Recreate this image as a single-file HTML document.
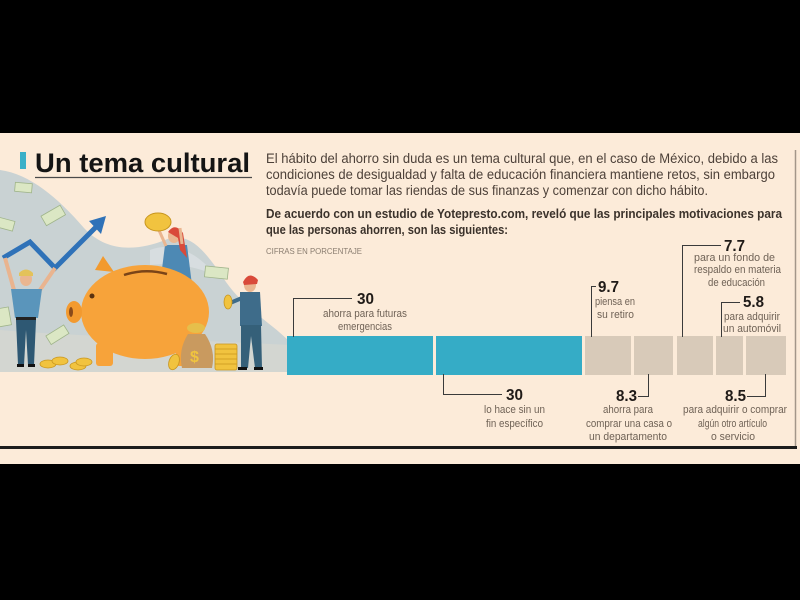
<!DOCTYPE html>
<html><head><meta charset="utf-8"><style>
html,body{margin:0;padding:0;background:#000;}
svg{display:block;}
</style></head><body>
<svg width="800" height="600" viewBox="0 0 800 600" xmlns="http://www.w3.org/2000/svg" font-family="Liberation Sans, Arial, sans-serif">
<rect x="0" y="0" width="800" height="600" fill="#000"/>
<rect x="0" y="133" width="800" height="331" fill="#fcebd9"/>

<!-- illustration background -->
<path d="M0,170 C30,174 58,198 84,228 C108,254 140,250 165,240 C190,230 206,252 226,282 C246,310 270,322 290,342 L290,372 L0,372 Z" fill="#c9d2d3"/>
<path d="M0,330 C60,335 150,338 290,345 L290,372 L0,372 Z" fill="#d3d6d1"/>
<path d="M150,250 C175,240 200,255 215,275 C200,268 175,262 150,265 Z" fill="#d7dde0"/>

<!-- bills -->
<g fill="#dbe7c4" stroke="#9fb48a" stroke-width="0.8">
<rect x="15" y="183" width="17" height="9" transform="rotate(5 23 187)"/>
<rect x="42" y="210" width="22" height="11" transform="rotate(-30 53 215)"/>
<rect x="-4" y="219" width="18" height="10" transform="rotate(15 5 224)"/>
<rect x="205" y="267" width="23" height="11" transform="rotate(6 216 272)"/>
<rect x="47" y="330" width="21" height="10" transform="rotate(-32 57 335)"/>
<rect x="-4" y="308" width="14" height="18" transform="rotate(-10 3 317)"/>
</g>

<!-- arrow -->
<polyline points="3,258 30,242 55,268 97,226" fill="none" stroke="#2f72b8" stroke-width="5" stroke-linejoin="miter"/>
<polygon points="106,216 89,221 101,234" fill="#2f72b8"/>

<!-- left man -->
<g>
<line x1="14" y1="290" x2="5" y2="258" stroke="#e9b48f" stroke-width="4"/>
<line x1="40" y1="290" x2="55" y2="268" stroke="#e9b48f" stroke-width="4"/>
<ellipse cx="26" cy="279" rx="6" ry="7" fill="#eab690"/>
<path d="M19,273 Q26,266 33,273 L33,276 L19,276 Z" fill="#e3c25a"/>
<path d="M11,289 L42,289 L38,318 L15,318 Z" fill="#5a95bb"/>
<rect x="16" y="317" width="20" height="3" fill="#222"/>
<path d="M16,320 L36,320 L34,365 L28,365 L26,330 L24,365 L18,365 Z" fill="#2e5873"/>
<rect x="17" y="364" width="7" height="3" fill="#111"/>
<rect x="28" y="364" width="7" height="3" fill="#111"/>
</g>

<!-- woman -->
<g>
<path d="M165,245 L187,245 L192,285 L160,285 Z" fill="#4d89b4"/>
<ellipse cx="174" cy="236" rx="6" ry="7" fill="#eab690"/>
<path d="M168,232 Q175,222 183,233 L187,258 L180,250 L178,238 Z" fill="#d94a3a"/>
<line x1="166" y1="246" x2="158" y2="228" stroke="#eab690" stroke-width="3"/>
<line x1="182" y1="244" x2="180" y2="228" stroke="#eab690" stroke-width="3"/>
<ellipse cx="158" cy="222" rx="13" ry="9" fill="#f1c33f" stroke="#c8961f" stroke-width="1"/>
</g>

<!-- pig -->
<g>
<path d="M95,270 L103,256 L114,272 Z" fill="#f29a2e"/>
<ellipse cx="145" cy="312" rx="64" ry="47" fill="#f7a33a"/>
<ellipse cx="74" cy="312" rx="8" ry="11" fill="#f39a2f"/>
<ellipse cx="71" cy="312" rx="2" ry="5" fill="#8a4a1a"/>
<circle cx="92" cy="296" r="2.5" fill="#5a3210"/>
<path d="M124,275 Q145,268 167,274" fill="none" stroke="#7a4418" stroke-width="2.5"/>
<rect x="96" y="343" width="17" height="23" rx="3" fill="#f7a33a"/>
<rect x="176" y="343" width="17" height="23" rx="3" fill="#f7a33a"/>
</g>

<!-- coins ground -->
<g fill="#f1c33f" stroke="#c8961f" stroke-width="0.8">
<ellipse cx="48" cy="364" rx="8" ry="4"/>
<ellipse cx="60" cy="361" rx="8" ry="4"/>
<ellipse cx="78" cy="366" rx="8" ry="4"/>
<ellipse cx="84" cy="362" rx="8" ry="4"/>
<ellipse cx="174" cy="362" rx="5" ry="8" transform="rotate(20 174 362)"/>
</g>

<!-- money bag -->
<path d="M188,334 Q178,350 182,368 L212,368 Q216,350 205,334 Z" fill="#c99a5f"/>
<ellipse cx="196" cy="328" rx="9" ry="5" fill="#e6bf4b"/>
<text x="190" y="362" font-size="16" font-weight="bold" fill="#f0c43e">$</text>
<!-- coin stack -->
<g fill="#f1c33f" stroke="#c8961f" stroke-width="0.8">
<rect x="215" y="344" width="22" height="26" rx="2"/>
</g>
<g stroke="#c8961f" stroke-width="0.7">
<line x1="215" y1="349" x2="237" y2="349"/><line x1="215" y1="354" x2="237" y2="354"/><line x1="215" y1="359" x2="237" y2="359"/><line x1="215" y1="364" x2="237" y2="364"/>
</g>

<!-- right man -->
<g>
<ellipse cx="250" cy="285" rx="6" ry="7" fill="#eab690"/>
<path d="M243,282 Q249,270 258,280 L257,284 L244,285 Z" fill="#d94a3a"/>
<path d="M240,292 L260,292 L262,326 L240,326 Z" fill="#3e6c8a"/>
<path d="M241,325 L261,325 L262,368 L255,368 L251,336 L248,368 L241,368 Z" fill="#356079"/>
<line x1="242" y1="298" x2="230" y2="303" stroke="#3e6c8a" stroke-width="4"/>
<ellipse cx="228" cy="302" rx="4" ry="7" fill="#f1c33f" stroke="#c8961f" stroke-width="0.8"/>
<rect x="238" y="367" width="9" height="3" fill="#111"/>
<rect x="254" y="367" width="9" height="3" fill="#111"/>
</g>

<!-- title -->
<rect x="20" y="152" width="6" height="17" fill="#3ab0c8"/>
<text x="35" y="172" font-size="27" font-weight="bold" fill="#141414" textLength="215" lengthAdjust="spacingAndGlyphs">Un tema cultural</text>
<line x1="35" y1="177.5" x2="252" y2="177.5" stroke="#4a4a4a" stroke-width="1.2"/>

<!-- paragraph -->
<g font-size="13.5" fill="#4d4139">
<text x="266" y="163" textLength="512" lengthAdjust="spacingAndGlyphs">El hábito del ahorro sin duda es un tema cultural que, en el caso de México, debido a las</text>
<text x="266" y="179" textLength="509" lengthAdjust="spacingAndGlyphs">condiciones de desigualdad y falta de educación financiera mantiene retos, sin embargo</text>
<text x="266" y="195" textLength="442" lengthAdjust="spacingAndGlyphs">todavía puede tomar las riendas de sus finanzas y comenzar con dicho hábito.</text>
</g>
<g font-size="13" font-weight="bold" fill="#3b322b">
<text x="266" y="218" textLength="516" lengthAdjust="spacingAndGlyphs">De acuerdo con un estudio de Yotepresto.com, reveló que las principales motivaciones para</text>
<text x="266" y="234" textLength="242" lengthAdjust="spacingAndGlyphs">que las personas ahorren, son las siguientes:</text>
</g>
<text x="266" y="254" font-size="8.5" fill="#8a7d70" textLength="96" lengthAdjust="spacingAndGlyphs">CIFRAS EN PORCENTAJE</text>

<!-- right border line -->
<line x1="795.5" y1="150" x2="795.5" y2="447" stroke="#a39689" stroke-width="1.5"/>
<!-- bottom rule -->
<rect x="0" y="446" width="797" height="3" fill="#1c1c1c"/>

<!-- bars -->
<g fill="#35acc6">
<rect x="287" y="336" width="146" height="39"/>
<rect x="436" y="336" width="146" height="39"/>
</g>
<g fill="#d8cab9">
<rect x="585" y="336" width="46" height="39"/>
<rect x="634" y="336" width="39" height="39"/>
<rect x="677" y="336" width="36" height="39"/>
<rect x="716" y="336" width="27" height="39"/>
<rect x="746" y="336" width="40" height="39"/>
</g>

<!-- leaders -->
<g fill="none" stroke="#3a3a3a" stroke-width="1">
<path d="M293.5,337 V298.5 H352"/>
<path d="M443.5,374 V394.5 H502"/>
<path d="M591.5,337 V286.5 H596"/>
<path d="M682.5,337 V245.5 H721"/>
<path d="M721.5,337 V302.5 H740"/>
<path d="M638,396.5 H648.5 V374"/>
<path d="M747,396.5 H765.5 V374"/>
</g>

<!-- numbers -->
<g font-size="15.5" font-weight="bold" fill="#1f1a17">
<text x="357" y="304" textLength="17" lengthAdjust="spacingAndGlyphs">30</text>
<text x="506" y="400" textLength="17" lengthAdjust="spacingAndGlyphs">30</text>
<text x="598" y="292" textLength="21" lengthAdjust="spacingAndGlyphs">9.7</text>
<text x="724" y="251" textLength="21" lengthAdjust="spacingAndGlyphs">7.7</text>
<text x="743" y="307" textLength="21" lengthAdjust="spacingAndGlyphs">5.8</text>
<text x="616" y="401" textLength="21" lengthAdjust="spacingAndGlyphs">8.3</text>
<text x="725" y="401" textLength="21" lengthAdjust="spacingAndGlyphs">8.5</text>
</g>

<!-- labels -->
<g font-size="11" fill="#6f6256">
<text x="323" y="317" textLength="84" lengthAdjust="spacingAndGlyphs">ahorra para futuras</text>
<text x="338" y="330" textLength="54" lengthAdjust="spacingAndGlyphs">emergencias</text>
<text x="484" y="413" textLength="61" lengthAdjust="spacingAndGlyphs">lo hace sin un</text>
<text x="486" y="427" textLength="57" lengthAdjust="spacingAndGlyphs">fin específico</text>
<text x="595" y="305" textLength="40" lengthAdjust="spacingAndGlyphs">piensa en</text>
<text x="597" y="318" textLength="37" lengthAdjust="spacingAndGlyphs">su retiro</text>
<text x="694" y="261" textLength="81" lengthAdjust="spacingAndGlyphs">para un fondo de</text>
<text x="694" y="273" textLength="87" lengthAdjust="spacingAndGlyphs">respaldo en materia</text>
<text x="708" y="286" textLength="57" lengthAdjust="spacingAndGlyphs">de educación</text>
<text x="724" y="320" textLength="56" lengthAdjust="spacingAndGlyphs">para adquirir</text>
<text x="723" y="332" textLength="58" lengthAdjust="spacingAndGlyphs">un automóvil</text>
<text x="603" y="413" textLength="50" lengthAdjust="spacingAndGlyphs">ahorra para</text>
<text x="586" y="427" textLength="86" lengthAdjust="spacingAndGlyphs">comprar una casa o</text>
<text x="589" y="440" textLength="78" lengthAdjust="spacingAndGlyphs">un departamento</text>
<text x="683" y="413" textLength="104" lengthAdjust="spacingAndGlyphs">para adquirir o comprar</text>
<text x="698" y="427" textLength="69" lengthAdjust="spacingAndGlyphs">algún otro artículo</text>
<text x="711" y="440" textLength="44" lengthAdjust="spacingAndGlyphs">o servicio</text>
</g>
</svg>
</body></html>
